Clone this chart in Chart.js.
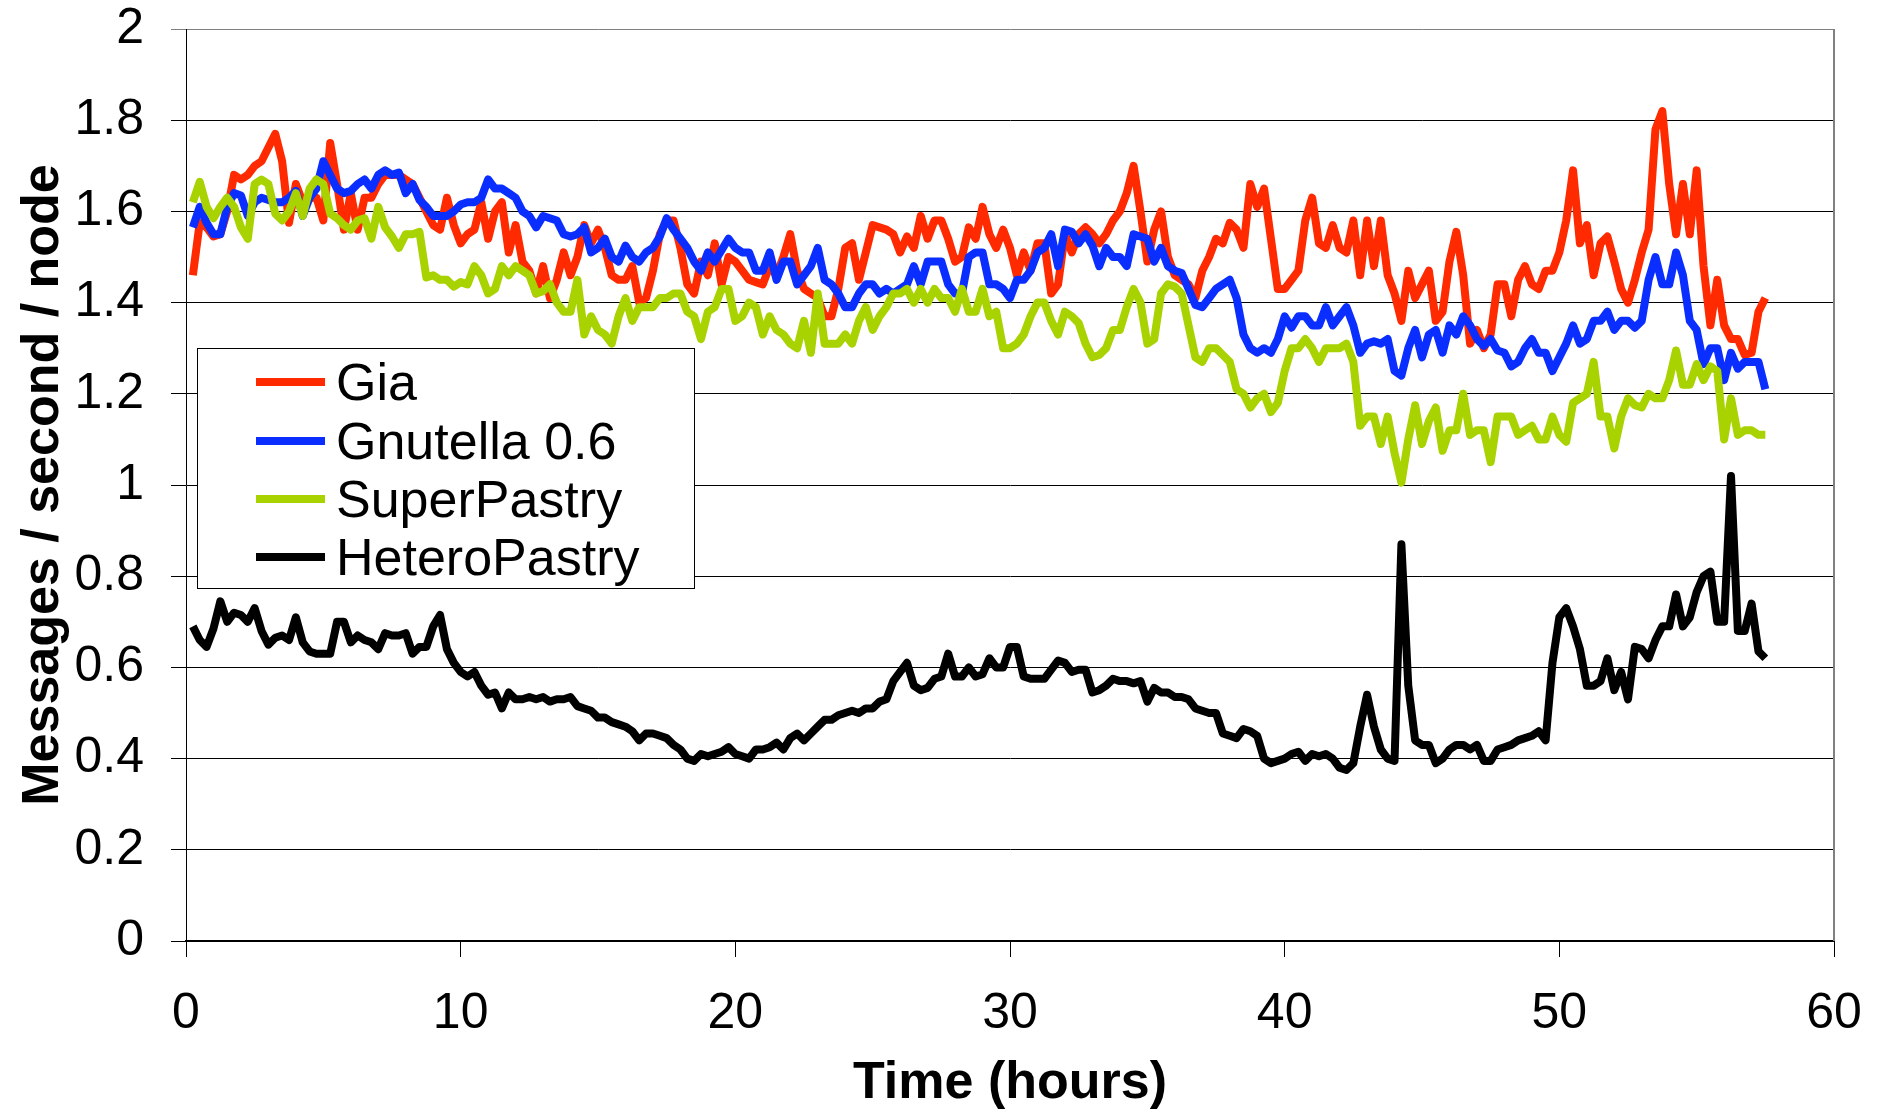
<!DOCTYPE html>
<html>
<head>
<meta charset="utf-8">
<script src="https://cdn.jsdelivr.net/npm/chart.js@4/dist/chart.umd.min.js"></script>
<style>
html,body{margin:0;padding:0;background:#fff;}
#wrap{position:relative;width:1883px;height:1111px;overflow:hidden;}
#c{position:absolute;left:0;top:0;}
#legend{position:absolute;left:197px;top:348px;width:496px;height:239px;border:1px solid #000;background:#fff;
  font-family:'Liberation Sans',Arial,Helvetica,sans-serif;font-size:52px;color:#000;}
.row{position:absolute;left:0;height:60px;width:100%;}
.sw{position:absolute;left:58px;top:26px;width:69px;height:8px;}
.lt{position:absolute;left:138px;top:4px;line-height:52px;white-space:nowrap;}
</style>
</head>
<body>
<div id="wrap">
<canvas id="c" width="1883" height="1111"></canvas>
<div id="legend"></div>
</div>
<script>
// ---- data ----
const hours = [
0.25,0.5,0.75,1,1.25,1.5,1.75,2,2.25,2.5,2.75,3,3.25,3.5,3.75,4,4.25,4.5,4.75,5,
5.25,5.5,5.75,6,6.25,6.5,6.75,7,7.25,7.5,7.75,8,8.25,8.5,8.75,9,9.25,9.5,9.75,10,
10.25,10.5,10.75,11,11.25,11.5,11.75,12,12.25,12.5,12.75,13,13.25,13.5,13.75,14,14.25,14.5,14.75,15,
15.25,15.5,15.75,16,16.25,16.5,16.75,17,17.25,17.5,17.75,18,18.25,18.5,18.75,19,19.25,19.5,19.75,20,
20.25,20.5,20.75,21,21.25,21.5,21.75,22,22.25,22.5,22.75,23,23.25,23.5,23.75,24,24.25,24.5,24.75,25,
25.25,25.5,25.75,26,26.25,26.5,26.75,27,27.25,27.5,27.75,28,28.25,28.5,28.75,29,29.25,29.5,29.75,30,
30.25,30.5,30.75,31,31.25,31.5,31.75,32,32.25,32.5,32.75,33,33.25,33.5,33.75,34,34.25,34.5,34.75,35,
35.25,35.5,35.75,36,36.25,36.5,36.75,37,37.25,37.5,37.75,38,38.25,38.5,38.75,39,39.25,39.5,39.75,40,
40.25,40.5,40.75,41,41.25,41.5,41.75,42,42.25,42.5,42.75,43,43.25,43.5,43.75,44,44.25,44.5,44.75,45,
45.25,45.5,45.75,46,46.25,46.5,46.75,47,47.25,47.5,47.75,48,48.25,48.5,48.75,49,49.25,49.5,49.75,50,
50.25,50.5,50.75,51,51.25,51.5,51.75,52,52.25,52.5,52.75,53,53.25,53.5,53.75,54,54.25,54.5,54.75,55,
55.25,55.5,55.75,56,56.25,56.5,56.75,57,57.25,57.5
];

const gia = [
1.46,1.575,1.565,1.545,1.55,1.60,1.68,1.67,1.68,1.70,1.71,1.74,1.77,1.71,1.575,1.66,1.62,1.63,1.63,1.58,
1.75,1.66,1.56,1.64,1.56,1.63,1.63,1.66,1.68,1.68,1.68,1.67,1.66,1.63,1.60,1.57,1.56,1.63,1.57,1.53,
1.55,1.56,1.62,1.54,1.60,1.62,1.51,1.57,1.49,1.47,1.42,1.48,1.41,1.45,1.51,1.46,1.50,1.57,1.53,1.56,
1.52,1.46,1.45,1.45,1.48,1.40,1.41,1.47,1.55,1.58,1.58,1.52,1.44,1.42,1.49,1.46,1.53,1.44,1.50,1.49,
1.47,1.45,1.445,1.44,1.48,1.46,1.50,1.55,1.47,1.43,1.42,1.41,1.37,1.37,1.43,1.52,1.53,1.45,1.51,1.57,
1.565,1.56,1.55,1.51,1.545,1.52,1.59,1.54,1.58,1.58,1.54,1.49,1.50,1.565,1.54,1.61,1.55,1.52,1.56,1.52,
1.46,1.51,1.47,1.53,1.53,1.42,1.44,1.55,1.51,1.55,1.565,1.55,1.53,1.55,1.58,1.60,1.64,1.70,1.60,1.49,
1.56,1.60,1.50,1.46,1.45,1.44,1.41,1.47,1.50,1.54,1.53,1.575,1.56,1.52,1.66,1.61,1.65,1.54,1.43,1.43,
1.45,1.47,1.58,1.63,1.53,1.52,1.57,1.52,1.51,1.58,1.46,1.58,1.48,1.58,1.46,1.42,1.36,1.47,1.41,1.44,
1.47,1.36,1.38,1.49,1.555,1.46,1.31,1.34,1.30,1.33,1.44,1.44,1.37,1.45,1.48,1.44,1.43,1.47,1.47,1.51,
1.58,1.69,1.53,1.57,1.46,1.53,1.545,1.49,1.43,1.40,1.45,1.51,1.56,1.78,1.82,1.66,1.55,1.66,1.55,1.69,
1.48,1.35,1.45,1.35,1.32,1.32,1.285,1.29,1.38,1.41
];

const gnutella = [
1.565,1.61,1.575,1.55,1.55,1.61,1.64,1.635,1.59,1.62,1.63,1.625,1.62,1.62,1.63,1.645,1.59,1.63,1.65,1.71,
1.68,1.65,1.64,1.645,1.66,1.67,1.65,1.68,1.69,1.68,1.685,1.64,1.66,1.625,1.61,1.59,1.59,1.59,1.60,1.615,
1.62,1.62,1.63,1.67,1.65,1.65,1.64,1.63,1.60,1.59,1.565,1.59,1.585,1.58,1.55,1.545,1.55,1.565,1.51,1.52,
1.54,1.50,1.49,1.525,1.50,1.49,1.51,1.52,1.545,1.585,1.56,1.54,1.52,1.49,1.47,1.51,1.49,1.515,1.54,1.52,
1.51,1.51,1.47,1.47,1.51,1.45,1.49,1.49,1.44,1.46,1.48,1.52,1.45,1.44,1.42,1.39,1.39,1.42,1.44,1.44,
1.42,1.43,1.42,1.43,1.44,1.48,1.44,1.49,1.49,1.49,1.44,1.42,1.42,1.50,1.51,1.51,1.44,1.44,1.43,1.41,
1.45,1.45,1.47,1.51,1.52,1.55,1.48,1.56,1.555,1.53,1.55,1.525,1.48,1.52,1.50,1.50,1.48,1.55,1.545,1.54,
1.49,1.52,1.48,1.47,1.465,1.43,1.395,1.39,1.41,1.43,1.44,1.45,1.41,1.33,1.30,1.29,1.30,1.29,1.32,1.37,
1.345,1.37,1.37,1.35,1.35,1.39,1.35,1.37,1.39,1.35,1.29,1.31,1.315,1.31,1.32,1.25,1.24,1.30,1.34,1.28,
1.33,1.34,1.29,1.35,1.33,1.37,1.35,1.32,1.305,1.32,1.295,1.29,1.26,1.27,1.30,1.32,1.29,1.29,1.25,1.28,
1.31,1.35,1.31,1.32,1.36,1.36,1.38,1.34,1.36,1.36,1.345,1.36,1.45,1.50,1.44,1.44,1.51,1.46,1.36,1.34,
1.265,1.30,1.30,1.23,1.29,1.255,1.27,1.27,1.27,1.21
];

const superPastry = [
1.62,1.665,1.61,1.585,1.61,1.63,1.61,1.565,1.54,1.66,1.67,1.66,1.595,1.58,1.60,1.64,1.59,1.65,1.67,1.66,
1.595,1.585,1.57,1.56,1.58,1.585,1.54,1.61,1.565,1.545,1.52,1.55,1.55,1.555,1.455,1.46,1.45,1.45,1.435,1.445,
1.44,1.48,1.46,1.42,1.43,1.48,1.46,1.48,1.47,1.46,1.42,1.425,1.44,1.40,1.38,1.38,1.45,1.33,1.37,1.34,
1.33,1.31,1.37,1.41,1.36,1.39,1.39,1.39,1.41,1.41,1.42,1.42,1.38,1.37,1.32,1.38,1.39,1.43,1.43,1.36,
1.37,1.40,1.39,1.33,1.37,1.34,1.33,1.31,1.30,1.36,1.29,1.42,1.31,1.31,1.31,1.33,1.31,1.36,1.39,1.34,
1.37,1.39,1.42,1.42,1.43,1.40,1.43,1.40,1.43,1.41,1.41,1.38,1.43,1.38,1.38,1.43,1.37,1.38,1.30,1.30,
1.31,1.33,1.37,1.40,1.40,1.36,1.33,1.38,1.37,1.355,1.31,1.28,1.285,1.30,1.34,1.34,1.39,1.43,1.40,1.31,
1.32,1.42,1.44,1.435,1.42,1.35,1.28,1.27,1.30,1.30,1.285,1.27,1.21,1.20,1.17,1.19,1.20,1.16,1.18,1.25,
1.30,1.30,1.32,1.30,1.27,1.30,1.30,1.30,1.31,1.27,1.13,1.15,1.15,1.09,1.15,1.07,1.005,1.10,1.175,1.09,
1.14,1.17,1.075,1.12,1.12,1.20,1.11,1.12,1.12,1.05,1.15,1.15,1.15,1.11,1.12,1.13,1.10,1.10,1.15,1.11,
1.095,1.18,1.19,1.20,1.27,1.15,1.15,1.08,1.15,1.19,1.175,1.17,1.20,1.19,1.19,1.23,1.295,1.22,1.22,1.265,
1.23,1.26,1.25,1.10,1.19,1.11,1.12,1.12,1.11,1.11
];

const heteroPastry = [
0.69,0.66,0.645,0.685,0.745,0.70,0.72,0.715,0.70,0.73,0.68,0.65,0.665,0.67,0.66,0.71,0.655,0.635,0.63,0.63,
0.63,0.70,0.70,0.655,0.67,0.66,0.655,0.64,0.675,0.67,0.67,0.675,0.63,0.645,0.645,0.69,0.715,0.64,0.61,0.59,
0.58,0.59,0.56,0.54,0.545,0.51,0.545,0.53,0.53,0.535,0.53,0.535,0.525,0.53,0.53,0.535,0.515,0.51,0.505,0.49,
0.49,0.48,0.475,0.47,0.46,0.44,0.455,0.455,0.45,0.445,0.43,0.42,0.40,0.395,0.41,0.405,0.41,0.415,0.425,0.41,
0.405,0.40,0.42,0.42,0.425,0.435,0.42,0.445,0.455,0.44,0.455,0.47,0.485,0.485,0.495,0.50,0.505,0.50,0.51,0.51,
0.525,0.53,0.57,0.59,0.61,0.56,0.55,0.555,0.575,0.58,0.63,0.58,0.58,0.60,0.58,0.585,0.62,0.60,0.60,0.645,
0.645,0.58,0.575,0.575,0.575,0.595,0.615,0.61,0.59,0.595,0.595,0.545,0.55,0.56,0.575,0.57,0.57,0.565,0.57,0.525,
0.555,0.545,0.545,0.535,0.535,0.53,0.51,0.505,0.50,0.50,0.455,0.45,0.445,0.465,0.46,0.45,0.40,0.39,0.395,0.40,
0.41,0.415,0.395,0.41,0.405,0.41,0.40,0.38,0.375,0.39,0.47,0.54,0.47,0.42,0.40,0.395,0.87,0.56,0.44,0.43,
0.43,0.39,0.40,0.42,0.43,0.43,0.42,0.43,0.395,0.395,0.42,0.425,0.43,0.44,0.445,0.45,0.46,0.44,0.61,0.71,
0.73,0.69,0.64,0.56,0.56,0.57,0.62,0.55,0.59,0.53,0.645,0.64,0.62,0.66,0.69,0.69,0.76,0.69,0.71,0.765,
0.80,0.81,0.70,0.70,1.02,0.68,0.68,0.74,0.635,0.62
];

const seriesNames = ['Gia', 'Gnutella 0.6', 'SuperPastry', 'HeteroPastry'];
const seriesColors = ['#FF2A00', '#0A2EFF', '#A8D200', '#000000'];
const xTickLabels = ['0', '10', '20', '30', '40', '50', '60'];
const yTickLabels = ['0', '0.2', '0.4', '0.6', '0.8', '1', '1.2', '1.4', '1.6', '1.8', '2'];

// ---- chart ----
const FONT = "'Liberation Sans', Arial, Helvetica, sans-serif";
Chart.defaults.font.family = FONT;
Chart.defaults.color = '#000';

const seriesValues = [gia, gnutella, superPastry, heteroPastry];
const datasets = seriesValues.map((vals, i) => ({
  label: seriesNames[i],
  data: hours.map((h, j) => ({ x: h, y: vals[j] })),
  borderColor: seriesColors[i],
  backgroundColor: seriesColors[i],
  borderWidth: 8,
  pointRadius: 0,
  pointHoverRadius: 0,
  tension: 0,
  fill: false,
  borderJoinStyle: 'round',
  borderCapStyle: 'butt',
  order: seriesValues.length - i
}));

const frame = {
  id: 'frame',
  afterDraw(chart) {
    const { ctx, chartArea } = chart;
    ctx.save();
    ctx.strokeStyle = '#808080';
    ctx.lineWidth = 2;
    ctx.beginPath();
    ctx.moveTo(chartArea.right, chartArea.top);
    ctx.lineTo(chartArea.right, chartArea.bottom);
    ctx.stroke();
    ctx.restore();
  }
};

const chart = new Chart(document.getElementById('c'), {
  type: 'line',
  data: { datasets },
  options: {
    responsive: false,
    animation: false,
    devicePixelRatio: 1,
    layout: { padding: { top: 29, right: 49, bottom: 0, left: 0 } },
    plugins: { legend: { display: false }, tooltip: { enabled: false } },
    scales: {
      x: {
        type: 'linear', min: 0, max: 60,
        afterFit: s => { s.height = 170; s.paddingLeft = 0; s.paddingRight = 0; },
        ticks: {
          stepSize: 10, padding: 27, maxRotation: 0, autoSkip: false,
          color: '#000', font: { family: FONT, size: 50 },
          callback: (v, i) => xTickLabels[i]
        },
        grid: { drawOnChartArea: false, drawTicks: true, tickLength: 16, color: '#000', lineWidth: 1 },
        border: { display: true, color: '#000', width: 2 },
        title: {
          display: true, text: 'Time (hours)', color: '#000',
          font: { family: FONT, size: 52, weight: 'bold', lineHeight: 1.0 },
          padding: { top: 0, bottom: 1 }
        }
      },
      y: {
        min: 0, max: 2,
        afterFit: s => { s.width = 186; s.paddingTop = 0; s.paddingBottom = 0; },
        ticks: {
          stepSize: 0.2, padding: 27, autoSkip: false,
          color: '#000', font: { family: FONT, size: 50 },
          callback: (v, i) => yTickLabels[i]
        },
        grid: {
          color: c => (c.tick && c.tick.value > 1.99) ? '#808080' : '#000',
          lineWidth: 1, tickLength: 15, drawTicks: true
        },
        border: { display: true, color: '#000', width: 1 },
        title: {
          display: true, text: 'Messages / second / node', color: '#000',
          font: { family: FONT, size: 52, weight: 'bold' },
          padding: { top: 12, bottom: 0 }
        }
      }
    }
  },
  plugins: [frame]
});

// ---- legend (HTML, built from the datasets) ----
const legend = document.getElementById('legend');
const rowCenters = [33, 92, 150, 208];
chart.data.datasets.forEach((ds, i) => {
  const row = document.createElement('div');
  row.className = 'row';
  row.style.top = (rowCenters[i] - 30) + 'px';
  const sw = document.createElement('div');
  sw.className = 'sw';
  sw.style.background = ds.borderColor;
  const lt = document.createElement('div');
  lt.className = 'lt';
  lt.textContent = ds.label;
  row.appendChild(sw);
  row.appendChild(lt);
  legend.appendChild(row);
});
</script>
</body>
</html>
